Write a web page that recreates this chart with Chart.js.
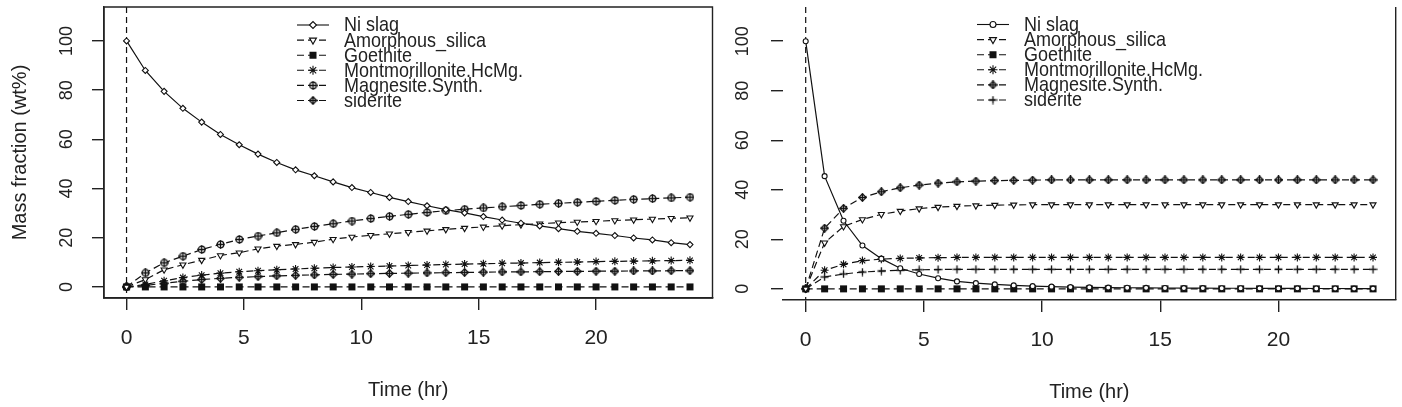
<!DOCTYPE html>
<html>
<head>
<meta charset="utf-8">
<script src="https://cdn.jsdelivr.net/npm/chart.js@4.4.1/dist/chart.umd.min.js"></script>
<style>
  body { margin: 0; background: #fff; width: 1402px; height: 407px; overflow: hidden; position: relative; }
  canvas { position: absolute; top: 0; }
  #leftChart { left: 0; }
  #rightChart { left: 725px; }
</style>
</head>
<body>
<canvas id="leftChart" width="725" height="407"></canvas>
<canvas id="rightChart" width="677" height="407"></canvas>
<script>
// time points (hr)
var timeHr = [0, 0.8, 1.6, 2.4, 3.2, 4, 4.8, 5.6, 6.4, 7.2, 8, 8.8, 9.6, 10.4, 11.2, 12,
  12.8, 13.6, 14.4, 15.2, 16, 16.8, 17.6, 18.4, 19.2, 20, 20.8, 21.6, 22.4, 23.2, 24];

var seriesNames = ["Ni slag", "Amorphous_silica", "Goethite", "Montmorillonite.HcMg.", "Magnesite.Synth.", "siderite"];
var xTicks = [0, 5, 10, 15, 20];
var yTicks = [0, 20, 40, 60, 80, 100];

// left panel (wt%)
var leftNiSlag = [100, 88, 79.5, 72.6, 67, 62, 57.8, 54, 50.6, 47.6, 45.2, 42.7, 40.4, 38.4, 36.4, 34.7,
  33, 31.4, 30.1, 28.6, 27.2, 25.9, 24.8, 23.7, 22.6, 21.8, 20.9, 19.9, 19.1, 18, 17.2];
var leftSilica = [0, 3, 7, 9, 10.9, 12.8, 13.9, 15.5, 16.6, 17.3, 18.2, 19.4, 20.3, 21, 21.6, 22.2,
  22.8, 23.4, 23.9, 24.4, 24.9, 25.3, 25.7, 26.1, 26.4, 26.7, 27, 27.3, 27.6, 27.9, 28.1];
var leftGoethite = [0, 0, 0, 0, 0, 0, 0, 0, 0, 0, 0, 0, 0, 0, 0, 0,
  0, 0, 0, 0, 0, 0, 0, 0, 0, 0, 0, 0, 0, 0, 0];
var leftMont = [0, 1, 2.5, 3.8, 4.8, 5.6, 6.2, 6.6, 7, 7.3, 7.6, 7.9, 8.1, 8.3, 8.5, 8.7,
  8.9, 9.1, 9.3, 9.4, 9.6, 9.7, 9.9, 10, 10.1, 10.3, 10.4, 10.5, 10.6, 10.7, 10.8];
var leftMagnesite = [0, 5.7, 9.8, 12.5, 15.2, 17.3, 19.3, 20.7, 22, 23.4, 24.6, 25.7, 26.8, 27.8, 28.7, 29.5,
  30.3, 31, 31.6, 32.1, 32.6, 33.1, 33.6, 34, 34.4, 34.8, 35.2, 35.6, 35.9, 36.2, 36.5];
var leftSiderite = [0, 0.6, 1.5, 2.3, 3, 3.5, 3.9, 4.2, 4.5, 4.7, 4.9, 5.1, 5.2, 5.4, 5.5, 5.6,
  5.7, 5.8, 5.9, 6, 6.1, 6.1, 6.2, 6.3, 6.3, 6.4, 6.4, 6.5, 6.5, 6.6, 6.6];

// right panel (wt%)
var rightNiSlag = [100, 45.5, 27.5, 17.5, 12.2, 8.3, 6, 4.3, 3, 2.3, 1.8, 1.4, 1.1, 0.9, 0.7, 0.6,
  0.5, 0.45, 0.4, 0.35, 0.3, 0.3, 0.25, 0.25, 0.2, 0.2, 0.2, 0.15, 0.15, 0.1, 0.1];
var rightSilica = [0, 18.6, 25.2, 28, 30.1, 31.4, 32.4, 33, 33.4, 33.6, 33.8, 33.9, 34, 34, 34, 34,
  34, 34, 34, 34, 34, 34, 34, 34, 34, 34, 34, 34, 34, 34, 34];
var rightGoethite = [0, 0, 0, 0, 0, 0, 0, 0, 0, 0, 0, 0, 0, 0, 0, 0,
  0, 0, 0, 0, 0, 0, 0, 0, 0, 0, 0, 0, 0, 0, 0];
var rightMont = [0, 7.5, 9.9, 11.4, 12, 12.3, 12.5, 12.6, 12.7, 12.7, 12.7, 12.7, 12.7, 12.7, 12.7, 12.7,
  12.7, 12.7, 12.7, 12.7, 12.7, 12.7, 12.7, 12.7, 12.7, 12.7, 12.7, 12.7, 12.7, 12.7, 12.7];
var rightMagnesite = [0, 24.5, 32.5, 36.9, 39.2, 40.8, 41.9, 42.7, 43.2, 43.5, 43.7, 43.8, 43.9, 44, 44, 44,
  44, 44, 44, 44, 44, 44, 44, 44, 44, 44, 44, 44, 44, 44, 44];
var rightSiderite = [0, 4.8, 6, 6.8, 7.2, 7.5, 7.7, 7.8, 7.9, 7.9, 7.9, 7.9, 7.9, 7.9, 7.9, 7.9,
  7.9, 7.9, 7.9, 7.9, 7.9, 7.9, 7.9, 7.9, 7.9, 7.9, 7.9, 7.9, 7.9, 7.9, 7.9];

var FONT = "'Liberation Sans', Arial, sans-serif";
var INK = "#111";

// R-like plotting symbols drawn on small canvases
function makeSymbol(kind) {
  var c = document.createElement("canvas");
  c.width = 9; c.height = 9;
  var g = c.getContext("2d");
  g.strokeStyle = INK; g.fillStyle = "#fff"; g.lineWidth = 1.3;
  var m = 4.5;
  if (kind == "diamondPlus") {
    g.beginPath(); g.moveTo(m, 0.8); g.lineTo(8.2, m); g.lineTo(m, 8.2); g.lineTo(0.8, m); g.closePath();
    g.fill(); g.stroke();
    g.beginPath(); g.moveTo(m, 0.5); g.lineTo(m, 8.5); g.moveTo(0.5, m); g.lineTo(8.5, m); g.stroke();
  } else if (kind == "circlePlus") {
    g.beginPath(); g.arc(m, m, 3.3, 0, Math.PI * 2); g.fill(); g.stroke();
    g.beginPath(); g.moveTo(m, 0.3); g.lineTo(m, 8.7); g.moveTo(0.3, m); g.lineTo(8.7, m); g.stroke();
  } else if (kind == "square") {
    g.fillStyle = INK; g.fillRect(1, 1, 7, 7);
  } else if (kind == "plus") {
    g.beginPath(); g.moveTo(m, 0.5); g.lineTo(m, 8.5); g.moveTo(0.5, m); g.lineTo(8.5, m); g.stroke();
  }
  return c;
}

function toPoints(values) {
  return timeHr.map(function(t, i) { return { x: t, y: values[i] }; });
}

function makeDatasets(values, styles) {
  return values.map(function(v, i) {
    var st = styles[i];
    return {
      label: seriesNames[i],
      data: toPoints(v),
      borderColor: INK,
      borderWidth: 1.2,
      borderDash: i == 0 ? [] : [7, 4],
      pointStyle: st.style,
      pointRotation: st.rotation || 0,
      pointRadius: st.radius,
      pointBorderWidth: 1.1,
      pointBorderColor: INK,
      pointBackgroundColor: st.fill,
      tension: 0
    };
  });
}

// draws what R draws around the plot: box, dashed t=0 line, rotated y labels, titles, legend
function rPlotPlugin(cfg) {
  return {
    id: "rplot",
    beforeDatasetsDraw: function(chart) {
      var ctx = chart.ctx, a = chart.chartArea;
      var x0 = chart.scales.x.getPixelForValue(0);
      ctx.save();
      ctx.strokeStyle = INK; ctx.lineWidth = 1.2; ctx.setLineDash([6, 4]);
      ctx.beginPath(); ctx.moveTo(x0, a.top); ctx.lineTo(x0, a.bottom); ctx.stroke();
      ctx.restore();
    },
    afterDraw: function(chart) {
      var ctx = chart.ctx, a = chart.chartArea, ys = chart.scales.y;
      ctx.save();
      ctx.strokeStyle = "#222"; ctx.lineWidth = 1.4;
      ctx.beginPath();
      if (cfg.fullBox) {
        ctx.rect(a.left, a.top, a.right - a.left, a.bottom - a.top);
      } else {
        ctx.moveTo(a.right, a.top); ctx.lineTo(a.right, a.bottom);
      }
      ctx.stroke();

      // rotated y tick labels
      ctx.fillStyle = "#222";
      ctx.font = "18px " + FONT;
      ctx.textAlign = "center"; ctx.textBaseline = "middle";
      yTicks.forEach(function(v) {
        ctx.save();
        ctx.translate(cfg.yLabelX, ys.getPixelForValue(v));
        ctx.rotate(-Math.PI / 2);
        ctx.fillText(String(v), 0, 0);
        ctx.restore();
      });

      if (cfg.yTitle) {
        ctx.save();
        ctx.font = "20px " + FONT;
        ctx.translate(cfg.yTitleX, (a.top + a.bottom) / 2);
        ctx.rotate(-Math.PI / 2);
        ctx.fillText(cfg.yTitle, 0, 0);
        ctx.restore();
      }

      ctx.font = "20px " + FONT;
      ctx.fillText("Time (hr)", (a.left + a.right) / 2, cfg.xTitleY);

      // legend
      ctx.font = "18px " + FONT;
      ctx.textAlign = "left";
      chart.data.datasets.forEach(function(ds, i) {
        var y = cfg.legendTop + i * cfg.legendStep;
        ctx.strokeStyle = INK; ctx.lineWidth = 1.1;
        ctx.setLineDash(i == 0 ? [] : [7, 4]);
        ctx.beginPath(); ctx.moveTo(cfg.legendX, y); ctx.lineTo(cfg.legendX + 32, y); ctx.stroke();
        ctx.setLineDash([]);
        ctx.fillStyle = ds.pointBackgroundColor;
        ctx.strokeStyle = INK;
        Chart.helpers.drawPoint(ctx, {
          pointStyle: ds.pointStyle, rotation: ds.pointRotation,
          radius: ds.pointRadius + 0.5, borderWidth: 1.1
        }, cfg.legendX + 16, y);
        ctx.fillStyle = "#222";
        ctx.save();
        ctx.translate(cfg.legendX + 47, y + 1);
        ctx.scale(1, 1.1);
        ctx.fillText(ds.label, 0, 0);
        ctx.restore();
      });
      ctx.restore();
    }
  };
}

function makeChart(id, datasets, cfg) {
  return new Chart(document.getElementById(id), {
    type: "line",
    data: { datasets: datasets },
    options: {
      responsive: false,
      animation: false,
      events: [],
      layout: { padding: { top: 7, right: cfg.padRight, left: 0, bottom: 0 } },
      plugins: { legend: { display: false }, tooltip: { enabled: false } },
      scales: {
        x: {
          type: "linear", min: -0.96, max: 24.96,
          afterBuildTicks: function(s) { s.ticks = xTicks.map(function(v) { return { value: v }; }); },
          afterFit: function(s) { s.height = 407 - cfg.bottom; },
          grid: { drawOnChartArea: false, drawTicks: true, tickLength: 12, color: "#222", lineWidth: 1.4 },
          border: { display: true, color: "#222", width: 1.4 },
          ticks: { color: "#222", font: { family: FONT, size: 21 }, padding: 16, maxRotation: 0 }
        },
        y: {
          type: "linear", min: -4.5, max: 113.8,
          afterBuildTicks: function(s) { s.ticks = yTicks.map(function(v) { return { value: v }; }); },
          afterFit: function(s) { s.width = cfg.yWidth; },
          grid: { drawOnChartArea: false, drawTicks: true, tickLength: 12, color: "#222", lineWidth: 1.4 },
          border: { display: cfg.fullBox, color: "#222", width: 1.4 },
          ticks: { display: false }
        }
      }
    },
    plugins: [rPlotPlugin(cfg)]
  });
}

var leftStyles = [
  { style: "rectRot", radius: 3, fill: "#fff" },
  { style: "triangle", rotation: 180, radius: 3.5, fill: "#fff" },
  { style: makeSymbol("square"), radius: 4, fill: INK },
  { style: "star", radius: 4, fill: INK },
  { style: makeSymbol("circlePlus"), radius: 4, fill: "#fff" },
  { style: makeSymbol("diamondPlus"), radius: 4, fill: "#fff" }
];
var rightStyles = [
  { style: "circle", radius: 2.5, fill: "#fff" },
  { style: "triangle", rotation: 180, radius: 3.5, fill: "#fff" },
  { style: makeSymbol("square"), radius: 4, fill: INK },
  { style: "star", radius: 4, fill: INK },
  { style: makeSymbol("diamondPlus"), radius: 4, fill: "#fff" },
  { style: makeSymbol("plus"), radius: 4, fill: "#fff" }
];

makeChart("leftChart",
  makeDatasets([leftNiSlag, leftSilica, leftGoethite, leftMont, leftMagnesite, leftSiderite], leftStyles),
  { fullBox: true, yWidth: 104, padRight: 12.5, bottom: 298, yLabelX: 67, yTitle: "Mass fraction (wt%)",
    yTitleX: 20, xTitleY: 390, legendX: 297, legendTop: 25, legendStep: 15.1 });

makeChart("rightChart",
  makeDatasets([rightNiSlag, rightSilica, rightGoethite, rightMont, rightMagnesite, rightSiderite], rightStyles),
  { fullBox: false, yWidth: 58, padRight: 6.3, bottom: 300, yLabelX: 18, yTitle: null,
    yTitleX: 0, xTitleY: 392, legendX: 252, legendTop: 24.5, legendStep: 15.1 });
</script>
</body>
</html>
